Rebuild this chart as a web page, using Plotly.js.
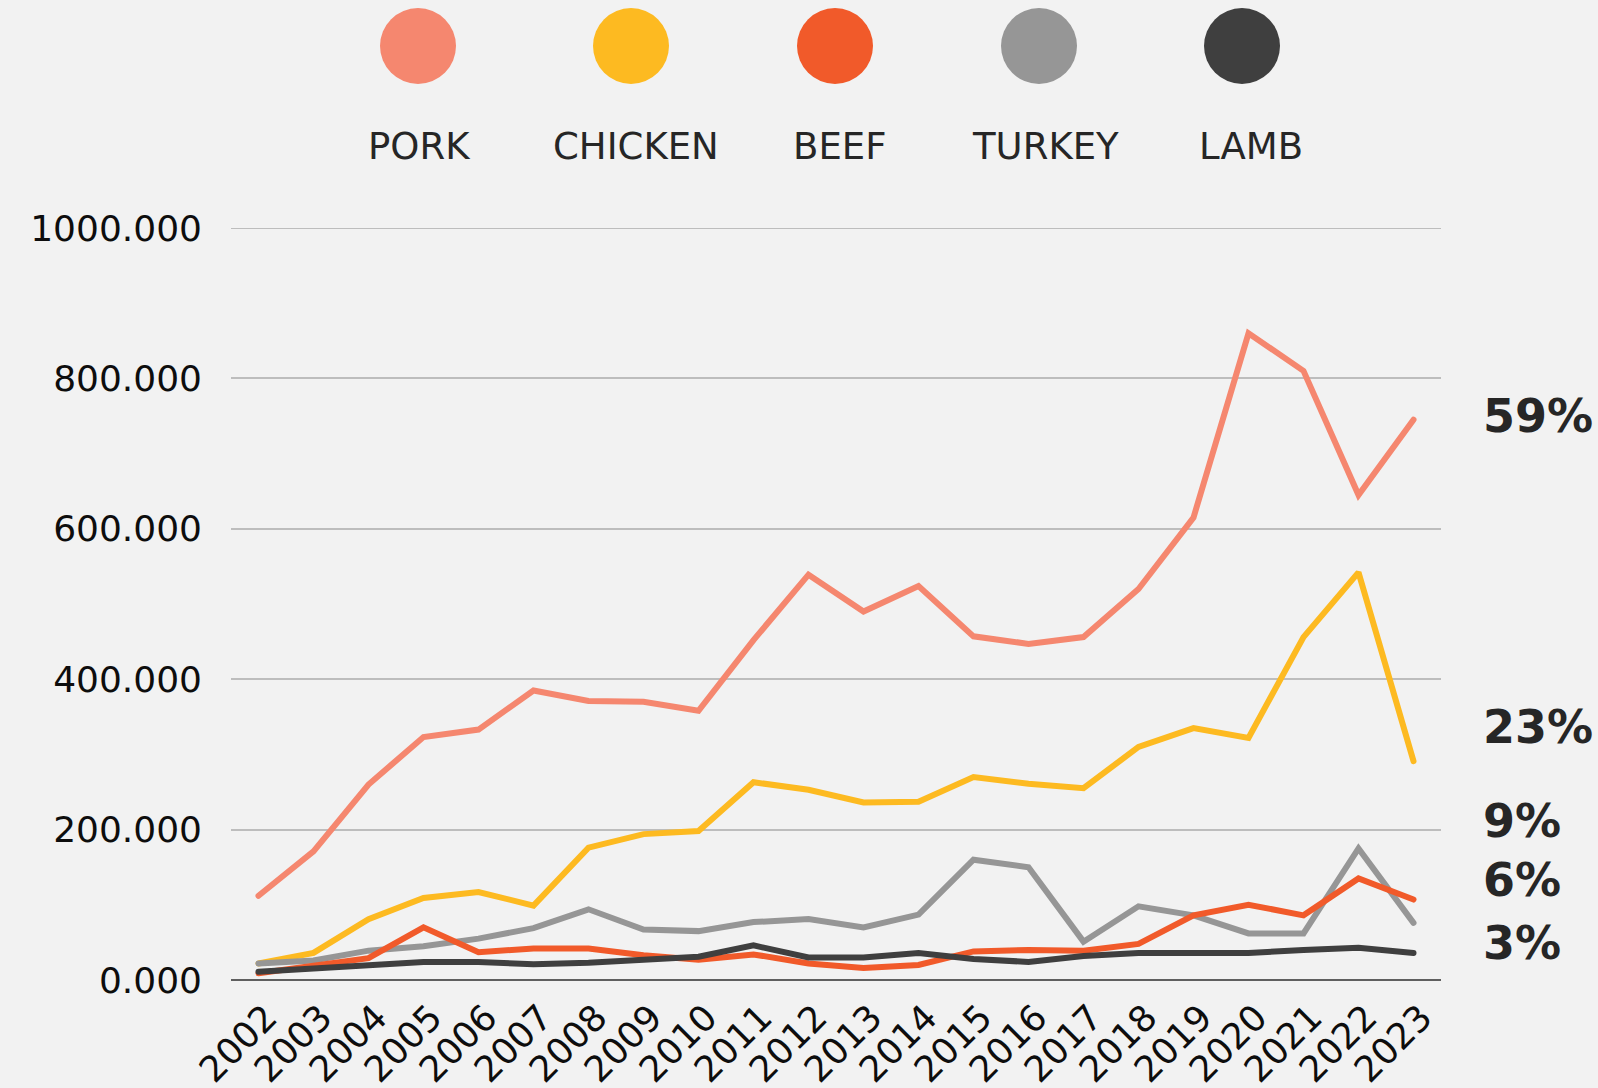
<!DOCTYPE html>
<html>
<head>
<meta charset="utf-8">
<script src="https://cdn.plot.ly/plotly-3.0.1.min.js"></script>
<style>
html,body{margin:0;padding:0;background:#f2f2f2;}
#chart{width:1598px;height:1088px;}
.js-line{stroke-linecap:round;}
</style>
</head>
<body>
<div id="chart"></div>
<script>
const years = ['2002','2003','2004','2005','2006','2007','2008','2009','2010','2011','2012','2013','2014','2015','2016','2017','2018','2019','2020','2021','2022','2023'];
const seriesNames = ['PORK','CHICKEN','BEEF','TURKEY','LAMB'];
const pork    = [112,171,260,323,333,385,371,370,358,452,539,490,524,457,447,456,520,615,860,810,645,745];
const chicken = [22,36,81,109,117,99,176,194,198,263,253,236,237,270,261,255,310,335,322,456,542,291];
const beef    = [9,18,29,70,37,42,42,33,27,34,22,16,20,38,40,39,48,86,100,86,135,107];
const turkey  = [22,26,39,45,55,69,94,67,65,77,81,70,87,160,150,51,98,86,62,62,175,76];
const lamb    = [11,16,19,24,24,21,23,27,31,46,30,30,36,28,24,32,36,36,36,40,43,36];
const yTicks  = [0,200,400,600,800,1000];
const shareLabels = ['59%','23%','9%','6%','3%'];

const colors = {PORK:'#F5876F', CHICKEN:'#FDBA21', BEEF:'#F15A2A', TURKEY:'#969696', LAMB:'#3F3F3F'};
const dataBy = {PORK:pork, CHICKEN:chicken, BEEF:beef, TURKEY:turkey, LAMB:lamb};
const drawOrder = ['PORK','CHICKEN','TURKEY','BEEF','LAMB'];

const traces = drawOrder.map(n => ({
  type:'scatter', mode:'lines', name:n, x:years, y:dataBy[n],
  line:{color:colors[n], width:6}, hoverinfo:'skip', cliponaxis:false
}));

const W = 1598, H = 1088, L = 231, R = 157, T = 228, B = 108;
const pw = W - L - R, ph = H - T - B;
const px2paperX = p => (p - L) / pw;
const px2paperY = p => (H - B - p) / ph;

const legendCx = [418, 631, 835, 1039, 1242];
const legendTx = [419, 636, 839, 1045, 1251];
const shapes = [];
const annotations = [];
// top gridline (at the plot edge, which Plotly does not draw itself)
shapes.push({type:'line', xref:'paper', yref:'y', x0:0, x1:1, y0:yTicks[yTicks.length-1], y1:yTicks[yTicks.length-1],
  line:{color:'#bdbdbd', width:2}, layer:'below'});
seriesNames.forEach((n, i) => {
  shapes.push({type:'circle', xref:'paper', yref:'paper', xsizemode:'pixel', ysizemode:'pixel',
    xanchor:px2paperX(legendCx[i]), yanchor:px2paperY(46), x0:-38, x1:38, y0:-38, y1:38,
    fillcolor:colors[n], line:{width:0}});
  annotations.push({xref:'paper', yref:'paper', x:px2paperX(legendTx[i]), y:px2paperY(146),
    text:n, showarrow:false, xanchor:'center', yanchor:'middle',
    font:{family:'DejaVu Sans, sans-serif', size:37, color:'#262626'}});
});
const shareY = [416, 727, 821, 880, 943];
shareLabels.forEach((t, i) => {
  annotations.push({xref:'paper', yref:'paper', x:px2paperX(1481), y:px2paperY(shareY[i]),
    text:'<b>'+t+'</b>', showarrow:false, xanchor:'left', yanchor:'middle',
    font:{family:'DejaVu Sans, sans-serif', size:46, color:'#262626'}});
});

const layout = {
  width:W, height:H,
  margin:{l:L, r:R, t:T, b:B, pad:0},
  paper_bgcolor:'#f2f2f2', plot_bgcolor:'#f2f2f2',
  showlegend:false,
  font:{family:'DejaVu Sans, sans-serif', color:'#0d0d0d'},
  xaxis:{type:'category', range:[-0.5, 21.5], tickangle:-45, showgrid:false, zeroline:false,
    showline:false, ticks:'', tickfont:{size:36, color:'#0d0d0d'}, ticklabelstandoff:8, ticklabelshift:8, fixedrange:true},
  yaxis:{range:[0,1000], tickvals:yTicks, tickformat:'.3f', showgrid:true, gridcolor:'#bdbdbd', gridwidth:2,
    zeroline:true, zerolinecolor:'#5f5f5f', zerolinewidth:2, showline:false, ticks:'',
    tickfont:{size:36, color:'#0d0d0d'}, ticklabelstandoff:28, fixedrange:true},
  shapes:shapes,
  annotations:annotations
};

Plotly.newPlot('chart', traces, layout, {staticPlot:true, displayModeBar:false});
</script>
</body>
</html>
